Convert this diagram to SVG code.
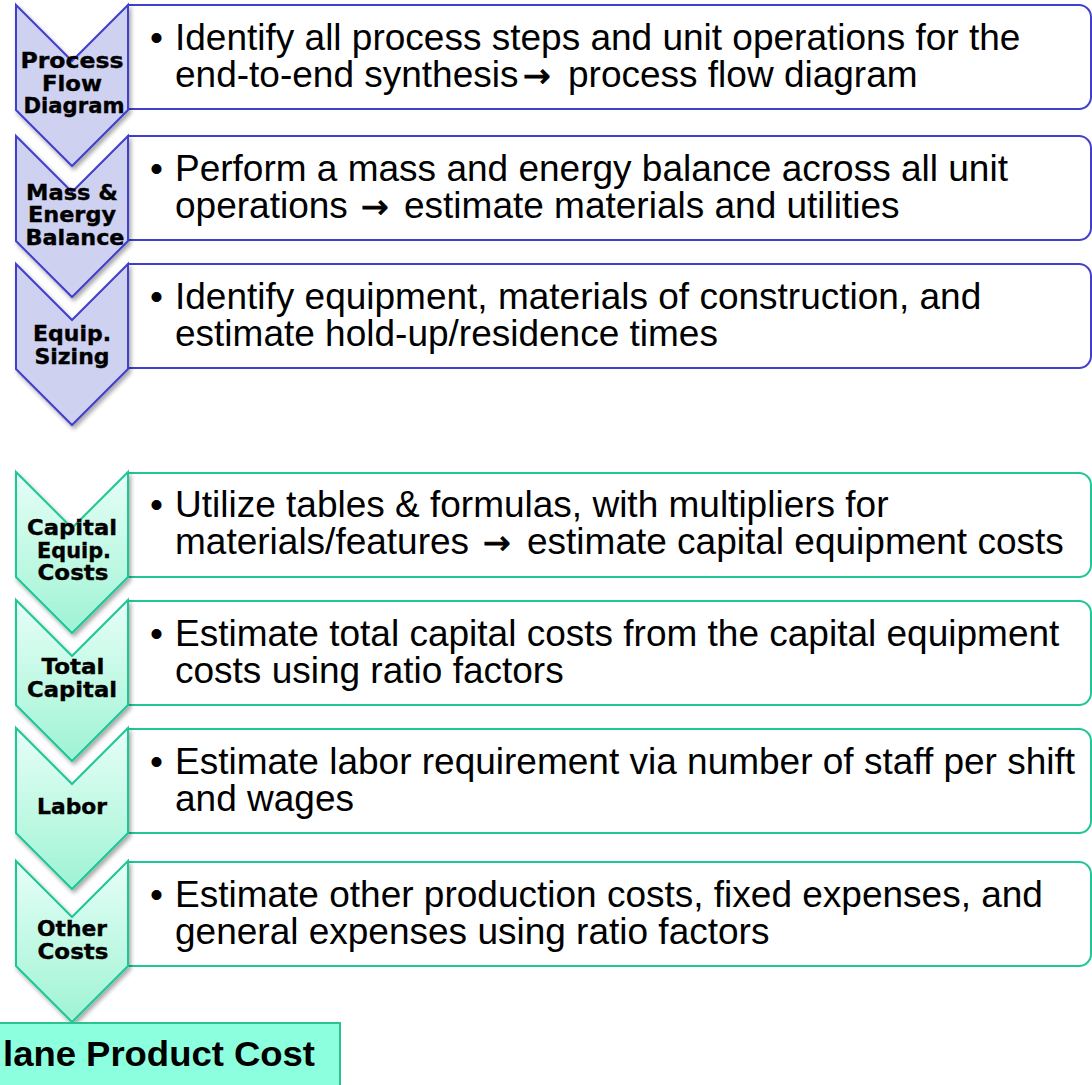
<svg xmlns="http://www.w3.org/2000/svg" width="1092" height="1085" viewBox="0 0 1092 1085">
  <defs>
    <linearGradient id="gGreen" x1="0" y1="0" x2="0" y2="1">
      <stop offset="0" stop-color="#E6FFF6"/>
      <stop offset="1" stop-color="#9FF3D5"/>
    </linearGradient>
    <filter id="shadow" x="-20%" y="-20%" width="150%" height="150%">
      <feDropShadow dx="2" dy="3" stdDeviation="2.2" flood-color="#000" flood-opacity="0.35"/>
    </filter>
    <!-- chevron shape, top edge at y=0 -->
    <path id="chev" d="M16,0 L72,56 L128,0 L128,105 L72,161 L16,105 Z"/>
    <!-- text panel, top edge at y=0 -->
    <path id="panel" d="M128,0 H1079 A12,12 0 0 1 1091,12 V92 A12,12 0 0 1 1079,104 H128 Z"/>
  </defs>
  <style>
    .chev-blue { fill: #CFD1F1; stroke: #4040CC; stroke-width: 2; stroke-linejoin: miter; filter: url(#shadow); }
    .chev-green { fill: url(#gGreen); stroke: #1FC797; stroke-width: 2; stroke-linejoin: miter; filter: url(#shadow); }
    .panel-blue { fill: #FFFFFF; stroke: #4040CC; stroke-width: 2; }
    .panel-green { fill: #FFFFFF; stroke: #1FC797; stroke-width: 2; }
    .lbl { font-family: "DejaVu Sans", "Liberation Sans", sans-serif; font-weight: bold; font-size: 21px; fill: #000; stroke: #000; stroke-width: 0.35px; text-anchor: middle; }
    .body { font-family: "Liberation Sans", Arial, sans-serif; font-size: 37px; fill: #000; }
    .arr { font-family: "DejaVu Sans", sans-serif; font-size: 33px; fill: #000; stroke: #000; stroke-width: 0.9px; }
    .result { font-family: "Liberation Sans", Arial, sans-serif; font-weight: bold; font-size: 35px; fill: #000; }
  </style>

  <!-- connectors: chevrons flow into one another; no separate lines -->
  <g id="connectors"></g>

  <!-- Stage 1: Process Flow Diagram -->
  <g id="process-flow">
    <use href="#panel" class="panel-blue" transform="translate(0,5)"/>
    <use href="#chev" class="chev-blue" transform="translate(0,5)"/>
    <text class="lbl" x="72" y="68" textLength="103" lengthAdjust="spacingAndGlyphs">Process</text>
    <text class="lbl" x="72" y="90.5" textLength="60" lengthAdjust="spacingAndGlyphs">Flow</text>
    <text class="lbl" x="74" y="113" textLength="101" lengthAdjust="spacingAndGlyphs">Diagram</text>
    <text class="body" x="150" y="50">•</text>
    <text class="body" x="175" y="50">Identify all process steps and unit operations for the</text>
    <text class="body" x="175" y="87">end-to-end synthesis</text>
    <text class="arr" x="523" y="87">→</text>
    <text class="body" x="568" y="87">process flow diagram</text>
  </g>

  <!-- Stage 2: Mass & Energy Balance -->
  <g id="mass-energy">
    <use href="#panel" class="panel-blue" transform="translate(0,136)"/>
    <use href="#chev" class="chev-blue" transform="translate(0,136)"/>
    <text class="lbl" x="72" y="199.5" textLength="92" lengthAdjust="spacingAndGlyphs">Mass &amp;</text>
    <text class="lbl" x="72" y="222" textLength="88" lengthAdjust="spacingAndGlyphs">Energy</text>
    <text class="lbl" x="75" y="244.5" textLength="99" lengthAdjust="spacingAndGlyphs">Balance</text>
    <text class="body" x="150" y="181">•</text>
    <text class="body" x="175" y="181">Perform a mass and energy balance across all unit</text>
    <text class="body" x="175" y="218">operations</text>
    <text class="arr" x="361" y="218">→</text>
    <text class="body" x="404" y="218">estimate materials and utilities</text>
  </g>

  <!-- Stage 3: Equipment Sizing -->
  <g id="equip-sizing">
    <use href="#panel" class="panel-blue" transform="translate(0,264)"/>
    <use href="#chev" class="chev-blue" transform="translate(0,264)"/>
    <text class="lbl" x="72" y="341" textLength="78" lengthAdjust="spacingAndGlyphs">Equip.</text>
    <text class="lbl" x="72" y="364" textLength="75" lengthAdjust="spacingAndGlyphs">Sizing</text>
    <text class="body" x="150" y="309">•</text>
    <text class="body" x="175" y="309">Identify equipment, materials of construction, and</text>
    <text class="body" x="175" y="346">estimate hold-up/residence times</text>
  </g>

  <!-- Stage 4: Capital Equipment Costs -->
  <g id="capital-equip">
    <use href="#panel" class="panel-green" transform="translate(0,473)"/>
    <use href="#chev" class="chev-green" transform="translate(0,472)"/>
    <text class="lbl" x="72" y="535" textLength="90" lengthAdjust="spacingAndGlyphs">Capital</text>
    <text class="lbl" x="74" y="557.5" textLength="74" lengthAdjust="spacingAndGlyphs">Equip.</text>
    <text class="lbl" x="73" y="580" textLength="71" lengthAdjust="spacingAndGlyphs">Costs</text>
    <text class="body" x="150" y="517">•</text>
    <text class="body" x="175" y="517">Utilize tables &amp; formulas, with multipliers for</text>
    <text class="body" x="175" y="554">materials/features</text>
    <text class="arr" x="483" y="554">→</text>
    <text class="body" x="527" y="554">estimate capital equipment costs</text>
  </g>

  <!-- Stage 5: Total Capital -->
  <g id="total-capital">
    <use href="#panel" class="panel-green" transform="translate(0,601)"/>
    <use href="#chev" class="chev-green" transform="translate(0,600)"/>
    <text class="lbl" x="73" y="674" textLength="63" lengthAdjust="spacingAndGlyphs">Total</text>
    <text class="lbl" x="72" y="697" textLength="90" lengthAdjust="spacingAndGlyphs">Capital</text>
    <text class="body" x="150" y="646">•</text>
    <text class="body" x="175" y="646">Estimate total capital costs from the capital equipment</text>
    <text class="body" x="175" y="683">costs using ratio factors</text>
  </g>

  <!-- Stage 6: Labor -->
  <g id="labor">
    <use href="#panel" class="panel-green" transform="translate(0,729)"/>
    <use href="#chev" class="chev-green" transform="translate(0,728)"/>
    <text class="lbl" x="72" y="814" textLength="70" lengthAdjust="spacingAndGlyphs">Labor</text>
    <text class="body" x="150" y="774">•</text>
    <text class="body" x="175" y="774">Estimate labor requirement via number of staff per shift</text>
    <text class="body" x="175" y="811">and wages</text>
  </g>

  <!-- Stage 7: Other Costs -->
  <g id="other-costs">
    <use href="#panel" class="panel-green" transform="translate(0,862)"/>
    <use href="#chev" class="chev-green" transform="translate(0,861)"/>
    <text class="lbl" x="72" y="936" textLength="70" lengthAdjust="spacingAndGlyphs">Other</text>
    <text class="lbl" x="73" y="959" textLength="71" lengthAdjust="spacingAndGlyphs">Costs</text>
    <text class="body" x="150" y="907">•</text>
    <text class="body" x="175" y="907">Estimate other production costs, fixed expenses, and</text>
    <text class="body" x="175" y="944">general expenses using ratio factors</text>
  </g>

  <!-- Result -->
  <g id="product-cost">
    <rect x="-10" y="1023" width="350" height="80" fill="#8CFFDE" stroke="#2BC48F" stroke-width="2"/>
    <text class="result" x="3" y="1066" textLength="312" lengthAdjust="spacingAndGlyphs">lane Product Cost</text>
  </g>
</svg>
